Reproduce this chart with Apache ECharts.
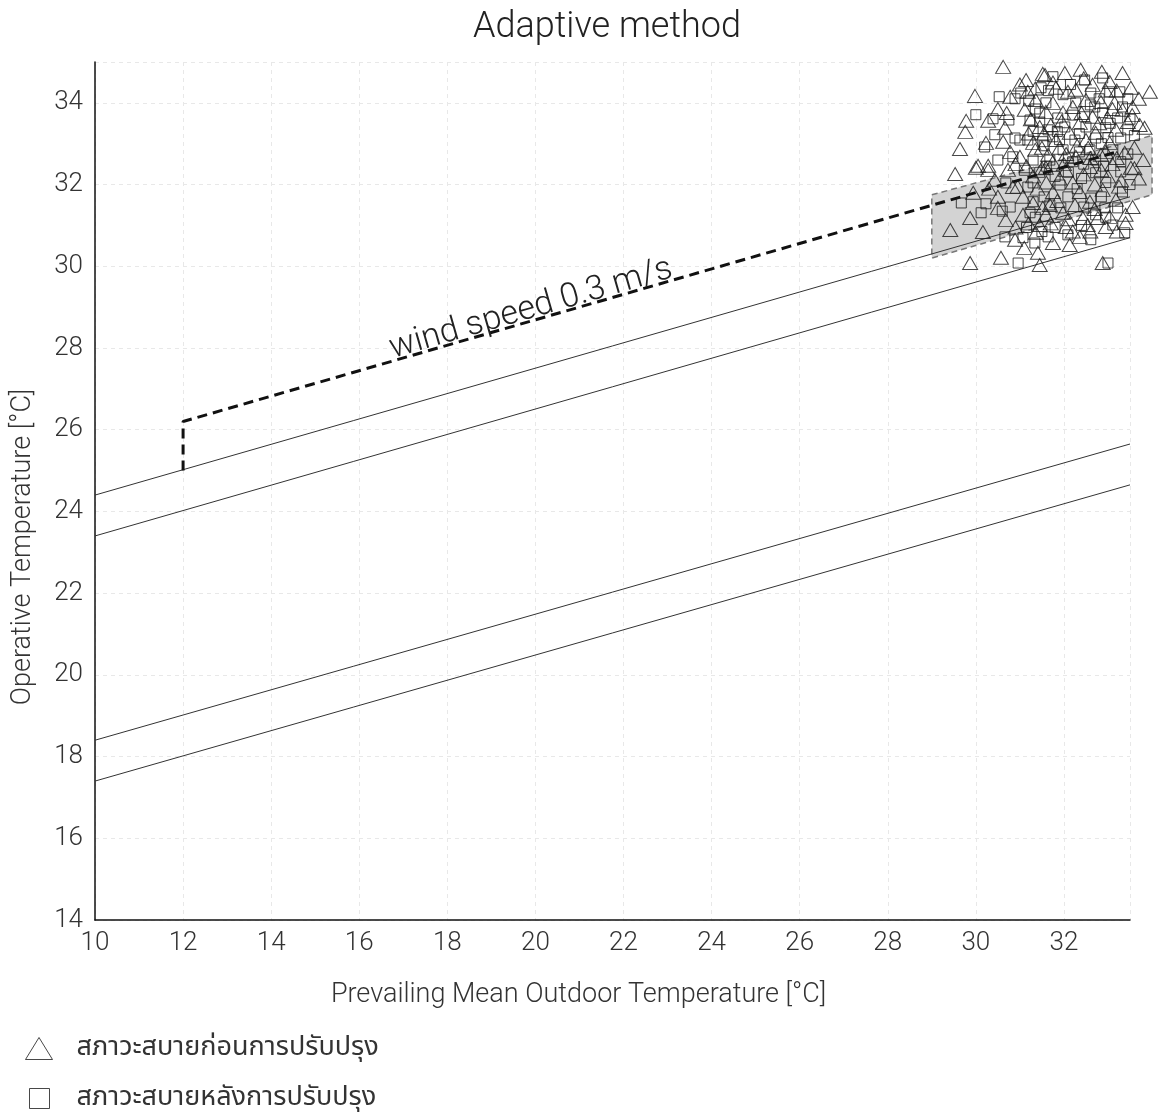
<!DOCTYPE html>
<html>
<head>
<meta charset="utf-8">
<script src="https://cdn.jsdelivr.net/npm/echarts@6/dist/echarts.min.js"></script>
<style>
html,body{margin:0;padding:0;background:#fff;}
#chart{width:1159px;height:1117px;}
</style>
</head>
<body>
<div id="chart"></div>
<script>
// ---- data ----
var xTicks = [10,12,14,16,18,20,22,24,26,28,30,32];
var yTicks = [14,16,18,20,22,24,26,28,30,32,34];
var upper80 = [[10,24.4],[33.5,31.7]];
var upper90 = [[10,23.4],[33.5,30.7]];
var lower90 = [[10,18.4],[33.5,25.65]];
var lower80 = [[10,17.4],[33.5,24.65]];
var windLine = [[12,25.0],[12,26.2],[33.2,32.8]];
var windLabelPos = [19.9, 28.95];
var windLabelDir = [[12,26.2],[33.2,32.8]];
var shadedZone = [[29,31.75],[34,33.2],[34,31.75],[29,30.2]];
var seriesNames = ['สภาวะสบายก่อนการปรับปรุง','สภาวะสบายหลังการปรับปรุง'];

var before = [
[30.62,34.88],[31.14,34.56],[31.52,34.71],[29.98,34.17],[30.78,34.15],[31.18,34.27],[30.5,33.85],
[29.78,33.56],[30.28,33.56],[29.76,33.29],[30.66,33.39],[29.64,32.87],[30.23,33.02],[30.62,33.05],
[30.78,32.8],[30.05,32.46],[30.28,32.46],[31.36,34.07],[31.11,33.83],[31.45,33.41],[31.3,33.02],[31.0,32.68],
[31.57,34.68],[32.02,34.73],[32.38,34.81],[32.86,34.76],[33.33,34.73],[33.95,34.27],[33.52,34.37],
[33.04,34.51],[32.65,34.44],[32.27,34.32],[31.82,34.37],[32.09,34.27],[31.75,34.0],[32.2,33.9],
[32.5,34.07],[32.84,34.02],[33.15,34.0],[33.56,33.9],[33.33,33.83],[31.59,33.78],[31.98,33.76],
[32.65,33.66],[32.99,33.63],[33.72,33.46],[33.45,33.53],[31.7,33.46],[32.36,33.51],[33.83,33.39],
[33.18,33.34],[32.13,33.27],[32.72,33.27],[31.82,33.09],[32.5,33.09],[33.04,33.02],[31.64,32.73],
[32.27,32.68],[32.84,32.73],[33.38,32.78],
[29.53,32.26],[30.0,32.41],[30.28,32.36],[30.73,32.36],[30.43,32.12],[30.84,31.94],[30.5,31.7],
[29.94,31.8],[31.07,31.7],[30.5,31.43],[29.87,31.18],[30.68,31.13],[31.07,31.26],[29.42,30.89],
[30.16,30.84],[30.89,30.65],[31.36,30.82],[29.87,30.08],[30.57,30.21],[31.45,30.03],[31.41,30.33],
[31.45,31.01],[31.52,31.43],
[31.59,32.41],[32.04,32.36],[32.59,32.43],[33.52,32.41],[31.75,31.82],[32.36,31.82],[32.88,31.87],
[31.68,31.5],[32.25,31.5],[32.59,31.58],[33.18,31.63],[33.56,31.45],[31.59,31.26],[31.98,31.31],
[32.43,31.18],[32.77,31.18],[33.04,31.21],[33.4,31.26],[32.04,30.96],[32.54,31.01],[32.95,30.96],
[33.4,31.06],[31.75,30.57],[32.13,30.52],[32.36,30.72],[32.88,30.08],
[31.3,32.2],[31.6,32.05],[31.9,32.15],[32.2,32.05],[32.45,32.25],[32.7,32.0],[33.0,32.2],[33.3,32.1],
[31.2,33.25],[31.5,32.9],[31.9,32.9],[32.3,32.95],[32.6,32.65],[33.1,32.5],[33.6,32.9],[33.8,32.6],
[31.4,31.9],[31.7,31.05],[32.2,30.85],[32.7,31.4],[30.3,31.9],[30.9,32.5],[31.3,31.55],[30.7,33.75],
[31.0,34.45],[31.35,34.35],[31.75,34.5],[32.45,34.6],[32.95,34.3],[33.2,34.3],[33.7,34.1],
[31.25,33.6],[31.55,33.25],[31.95,33.55],[32.4,33.75],[32.8,33.5],[33.1,33.85],[33.55,33.7],
[31.35,32.85],[31.75,32.55],[32.05,32.75],[32.55,32.9],[32.95,32.8],[33.2,32.65],[33.6,32.4],
[31.15,32.45],[31.5,32.4],[32.0,32.5],[32.85,32.35],[33.25,31.95],[33.7,32.15],[30.95,31.95],
[31.2,31.05],[31.85,31.6],[32.1,31.15],[32.6,30.85],[33.2,30.85],[30.9,30.95],[31.1,30.45]
];

var after = [
[30.53,34.15],[30.89,34.1],[31.02,34.24],[31.48,34.37],[30.0,33.71],[30.39,33.61],[30.43,33.22],
[30.75,33.58],[30.89,33.14],[30.2,32.92],[31.0,33.09],[31.23,33.58],[31.45,33.53],[30.5,32.6],
[30.84,32.68],[31.3,32.6],[31.52,33.05],[31.18,33.09],
[31.75,34.64],[32.47,34.56],[32.88,34.61],[32.61,34.24],[31.98,34.2],[33.27,34.27],[33.04,34.27],
[31.59,34.0],[32.27,34.0],[32.7,33.9],[33.33,33.9],[31.86,33.63],[32.47,33.66],[32.88,33.76],
[33.22,33.63],[31.64,33.34],[32.02,33.41],[32.5,33.41],[32.95,33.39],[33.45,33.34],[31.75,33.17],
[32.25,33.09],[32.72,33.14],[33.29,33.14],[31.98,32.85],[32.59,32.85],[33.11,32.85],[31.68,32.6],
[32.2,32.56],[32.72,32.6],[33.29,32.56],
[29.67,31.55],[30.23,31.53],[30.12,31.31],[30.78,31.45],[30.68,32.04],[31.18,31.94],[31.3,31.58],
[31.23,31.31],[30.66,30.72],[31.07,30.7],[31.34,30.57],[30.96,30.08],[31.3,32.04],
[31.91,31.99],[32.09,31.7],[32.61,31.67],[33.33,31.82],[31.68,31.5],[31.93,31.43],[32.93,31.43],
[33.22,31.43],[32.72,31.26],[33.11,31.01],[32.09,30.77],[32.61,30.65],[33.38,30.82],[31.64,30.72],
[33.0,30.08],[32.72,32.29],[33.29,32.31],
[31.45,32.3],[31.8,32.2],[32.1,32.3],[32.4,32.15],[32.95,32.05],[33.5,32.0],[31.55,31.7],[32.45,31.45],
[31.35,33.85],[31.9,33.1],[32.35,32.8],[32.85,33.0],[33.6,33.2],[31.1,32.35],[30.6,31.35],[31.15,30.95],
[31.2,34.05],[31.65,34.3],[32.15,34.45],[32.8,34.1],[33.45,34.1],[31.45,33.75],[32.2,33.7],
[32.6,33.95],[33.05,33.5],[31.3,33.3],[31.85,33.3],[32.35,33.25],[33.0,33.15],[33.5,33.6],
[31.55,32.95],[32.1,32.65],[32.45,32.5],[32.9,32.45],[33.45,32.75],[31.6,32.45],[32.3,31.9],
[32.85,31.7],[31.35,31.2],[31.8,30.95],[32.4,31.0],[32.95,31.2],[31.5,30.85]
];

var chart = echarts.init(document.getElementById('chart'));
var FONT = 'Roboto, "Noto Sans", "Noto Sans Thai", "DejaVu Sans", sans-serif';
var TXT = '#333';

function lineSeries(d, extra){
  return Object.assign({
    type:'line', data:d, symbol:'none', silent:true, z:3,
    lineStyle:{color:'#333', width:1}
  }, extra||{});
}

var hollowTri = {color:'rgba(0,0,0,0)', borderColor:'#1a1a1a', borderWidth:1};
var hollowSq = {color:'rgba(0,0,0,0)', borderColor:'#1a1a1a', borderWidth:1};

var option = {
  backgroundColor:'#fff',
  animation:false,
  textStyle:{fontFamily:FONT},
  title:{
    text:'Adaptive method', left:602, top:5, textAlign:'center',
    textStyle:{fontFamily:FONT, fontSize:36, fontWeight:300, color:'#222'}
  },
  legend:[
    {
      orient:'vertical', left:20, top:1030, padding:5,
      itemWidth:27, itemHeight:22,
      textStyle:{fontFamily:FONT, fontSize:27, color:TXT, padding:[0,0,0,19]},
      data:[{name:seriesNames[0], icon:'triangle', itemStyle:hollowTri}]
    },
    {
      orient:'vertical', left:24, top:1080, padding:5,
      itemWidth:20, itemHeight:20,
      textStyle:{fontFamily:FONT, fontSize:27, color:TXT, padding:[0,0,0,22]},
      data:[{name:seriesNames[1], icon:'rect', itemStyle:hollowSq}]
    }
  ],
  grid:{left:95, right:29, top:62, bottom:197},
  xAxis:{
    type:'value', min:10, max:33.5, interval:2,
    name:'Prevailing Mean Outdoor Temperature [°C]', nameLocation:'middle', nameGap:62,
    nameTextStyle:{fontFamily:FONT, fontSize:27, fontWeight:300, color:TXT, padding:[0,68,0,0]},
    axisLine:{lineStyle:{color:'#111', width:1.5}},
    axisTick:{show:false},
    axisLabel:{fontFamily:FONT, fontSize:26, fontWeight:300, color:TXT, margin:10,
      formatter:function(v){ return xTicks.indexOf(v)>=0 ? String(v) : ''; }},
    splitLine:{show:true, lineStyle:{color:'#e8e8e8', type:[4,4], width:1}}
  },
  yAxis:{
    type:'value', min:14, max:35, interval:2,
    name:'Operative Temperature [°C]', nameLocation:'middle', nameGap:58,
    nameTextStyle:{fontFamily:FONT, fontSize:27, fontWeight:300, color:TXT, padding:[0,112,0,0]},
    axisLine:{show:true, lineStyle:{color:'#111', width:1.5}},
    axisTick:{show:false},
    axisLabel:{fontFamily:FONT, fontSize:26, fontWeight:300, color:TXT, margin:12,
      formatter:function(v){ return yTicks.indexOf(v)>=0 ? String(v) : ''; }},
    splitLine:{show:true, lineStyle:{color:'#e8e8e8', type:[4,4], width:1}}
  },
  series:[
    {
      type:'custom', name:'zone', silent:true, z:1, clip:false,
      data:[0],
      renderItem:function(params, api){
        var pts = shadedZone.map(function(p){ return api.coord(p); });
        return {type:'polygon', shape:{points:pts},
          style:{fill:'#d3d3d3', stroke:'#777', lineWidth:1.5, lineDash:[6,4]}};
      }
    },
    lineSeries(upper80),
    lineSeries(upper90),
    lineSeries(lower90),
    lineSeries(lower80),
    lineSeries(windLine, {z:4, lineStyle:{color:'#111', width:3, type:[10,6]}}),
    {
      type:'custom', name:'windLabel', silent:true, z:5, clip:false,
      data:[0],
      renderItem:function(params, api){
        var p = api.coord(windLabelPos);
        var a = api.coord(windLabelDir[0]), b = api.coord(windLabelDir[1]);
        var ang = Math.atan2(a[1]-b[1], b[0]-a[0]);
        return {type:'text', x:p[0], y:p[1], rotation:ang,
          style:{text:'wind speed 0.3 m/s', fontFamily:FONT, fontSize:34, fontWeight:300,
            fill:'#222', align:'center', verticalAlign:'middle'}};
      }
    },
    {
      type:'scatter', name:seriesNames[0], data:before, symbol:'triangle', symbolSize:[15,13],
      clip:false, z:6, itemStyle:hollowTri
    },
    {
      type:'scatter', name:seriesNames[1], data:after, symbol:'rect', symbolSize:10,
      clip:false, z:6, itemStyle:hollowSq
    }
  ]
};
chart.setOption(option);
</script>
</body>
</html>
